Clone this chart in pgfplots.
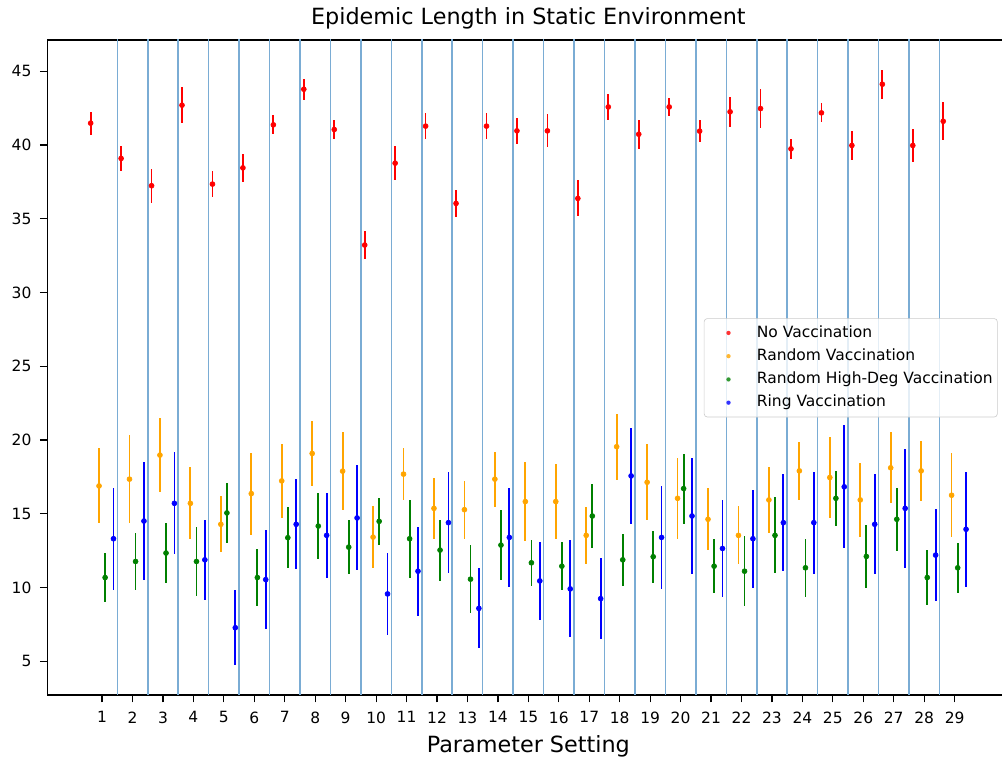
\documentclass[border=0pt]{standalone}
\usepackage{pgfplots}
\usepackage{pgfplotstable}
\pgfplotsset{compat=1.18}
\usepackage{fontspec}
\setmainfont{DejaVu Sans}
\definecolor{vline}{RGB}{122,172,212}
\definecolor{mplorange}{RGB}{255,165,0}
\definecolor{mplgreen}{RGB}{0,128,0}
\definecolor{legframe}{RGB}{204,204,204}

\pgfplotstableread{
s y e
1 41.48 0.78
2 39.09 0.86
3 37.24 1.15
4 42.70 1.21
5 37.35 0.89
6 38.45 0.95
7 41.37 0.64
8 43.78 0.72
9 41.05 0.65
10 33.22 0.97
11 38.77 1.15
12 41.28 0.87
13 36.04 0.89
14 41.28 0.90
15 40.96 0.90
16 40.96 1.12
17 36.38 1.22
18 42.58 0.90
19 40.73 0.98
20 42.58 0.58
21 40.94 0.76
22 42.25 1.02
23 42.47 1.32
24 39.74 0.68
25 42.18 0.64
26 39.97 0.98
27 44.12 0.98
28 39.97 1.09
29 41.61 1.28
}\novac

\pgfplotstableread{
s y e
1 16.89 2.54
2 17.35 2.97
3 18.98 2.53
4 15.71 2.43
5 14.29 1.90
6 16.37 2.78
7 17.23 2.49
8 19.09 2.23
9 17.89 2.64
10 13.42 2.12
11 17.69 1.78
12 15.37 2.09
13 15.28 1.97
14 17.35 1.87
15 15.83 2.66
16 15.83 2.57
17 13.54 1.92
18 19.55 2.23
19 17.14 2.59
20 16.05 2.76
21 14.63 2.10
22 13.54 1.96
23 15.94 2.22
24 17.91 1.98
25 17.46 2.72
26 15.94 2.51
27 18.12 2.40
28 17.91 2.01
29 16.26 2.83
}\randvac

\pgfplotstableread{
s y e
1 10.68 1.66
2 11.77 1.93
3 12.34 2.04
4 11.77 2.32
5 15.06 2.04
6 10.68 1.94
7 13.38 2.07
8 14.17 2.23
9 12.74 1.85
10 14.49 1.58
11 13.31 2.63
12 12.54 2.07
13 10.57 2.30
14 12.88 2.35
15 11.68 1.54
16 11.45 1.61
17 14.85 2.19
18 11.88 1.76
19 12.09 1.76
20 16.71 2.37
21 11.45 1.85
22 11.11 2.36
23 13.54 2.57
24 11.34 1.95
25 16.05 1.87
26 12.11 2.13
27 14.63 2.12
28 10.68 1.87
29 11.34 1.71
}\highdeg

\pgfplotstableread{
s y e
1 13.31 3.47
2 14.51 4.02
3 15.71 3.46
4 11.88 2.72
5 7.28 2.54
6 10.54 3.34
7 14.29 3.06
8 13.54 2.89
9 14.72 3.56
10 9.57 2.80
11 11.11 3.02
12 14.40 3.44
13 8.59 2.72
14 13.40 3.34
15 10.45 2.63
16 9.91 3.29
17 9.25 2.73
18 17.57 3.25
19 13.40 3.49
20 14.85 3.90
21 12.65 3.30
22 13.31 3.31
23 14.40 3.30
24 14.40 3.46
25 16.83 4.17
26 14.29 3.40
27 15.37 4.05
28 12.20 3.12
29 13.95 3.91
}\ringvac

\pgfplotsset{
  legdot/.style={legend image code/.code={\path[draw=none,fill=none] (0pt,0pt) -- (31pt,0pt); \fill[#1,draw=none] (14.7pt,0pt) circle (1.4pt);}},
  ebstyle/.style={only marks, mark=*, mark size=1.6pt, color=#1,
    error bars/.cd, y dir=both, y explicit, error mark=none,
    error bar style={line width=1.15pt, color=#1}},
}

\begin{document}
\begin{tikzpicture}
\useasboundingbox (0pt,0pt) rectangle (646.5pt,491.6pt);
\clip (0pt,0pt) rectangle (646.5pt,491.6pt);
\begin{axis}[
  at={(30.5pt,43.2pt)}, anchor=south west,
  scale only axis, width=620.8pt, height=422.6pt,
  xmin=-0.8, xmax=30.8, ymin=2.72, ymax=47.12,
  axis x line*=box, axis y line*=left,
  axis line style={-, line width=0.8pt, black},
  xtick={1,...,29}, ytick={5,10,...,45},
  xtick pos=bottom, ytick pos=left,
  tick align=outside, major tick length=4.7pt,
  every tick/.style={black, line width=0.8pt},
  /pgf/number format/assume math mode=true,
  tick label style={font=\fontsize{10}{12}\selectfont, black},
  xticklabel style={yshift=-2.5pt},
  yticklabel style={xshift=-2pt},
  title={Epidemic Length in Static Environment},
  title style={font=\fontsize{14.4}{17}\selectfont, anchor=base, yshift=3.7pt},
  xlabel={Parameter Setting},
  xlabel style={font=\fontsize{14.4}{17}\selectfont, at={(axis description cs:0.5,0)}, anchor=base, yshift=-37.4pt},
  legend cell align=left,
  legend style={at={(axis description cs:0.6824,0.5751)}, anchor=north west,
    draw=legframe, rounded corners=2pt, fill=white, fill opacity=0.8, text opacity=1,
    inner xsep=1pt, inner ysep=2pt, row sep=0.5pt,
    font=\fontsize{10}{12}\selectfont,
    nodes={inner ysep=2.5pt, text height=7.5pt, text depth=2pt}},
]
\addplot[ycomb, vline, line width=1pt, forget plot] coordinates {
 (1.5,50) (2.5,50) (3.5,50) (4.5,50) (5.5,50) (6.5,50) (7.5,50) (8.5,50) (9.5,50) (10.5,50)
 (11.5,50) (12.5,50) (13.5,50) (14.5,50) (15.5,50) (16.5,50) (17.5,50) (18.5,50) (19.5,50) (20.5,50)
 (21.5,50) (22.5,50) (23.5,50) (24.5,50) (25.5,50) (26.5,50) (27.5,50) (28.5,50)};
\addplot[legdot=red, ebstyle=red] table[x expr=\thisrow{s}-0.375, y=y, y error=e] {\novac};
\addlegendentry{No Vaccination}
\addplot[legdot=mplorange, ebstyle=mplorange] table[x expr=\thisrow{s}-0.1, y=y, y error=e] {\randvac};
\addlegendentry{Random Vaccination}
\addplot[legdot=mplgreen, ebstyle=mplgreen] table[x expr=\thisrow{s}+0.1, y=y, y error=e] {\highdeg};
\addlegendentry{Random High-Deg Vaccination}
\addplot[legdot=blue, ebstyle=blue] table[x expr=\thisrow{s}+0.375, y=y, y error=e] {\ringvac};
\addlegendentry{Ring Vaccination}
\end{axis}
\end{tikzpicture}
\end{document}
